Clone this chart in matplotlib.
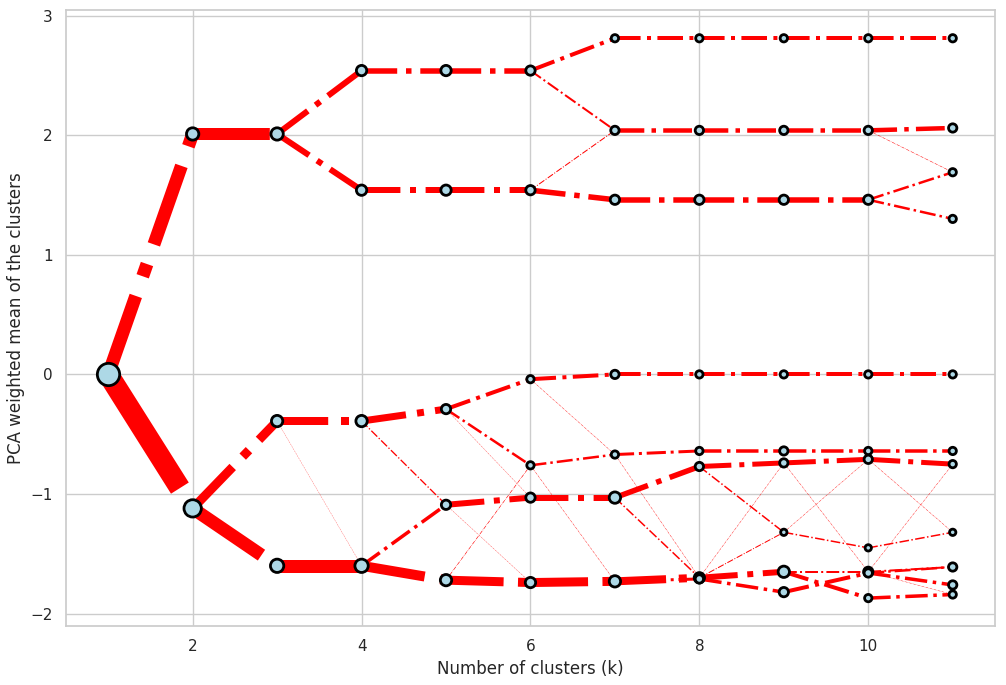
import matplotlib
matplotlib.use('Agg')
import matplotlib.pyplot as plt
import seaborn as sns


# cluster centres (PCA weighted mean) for each number of clusters k
ks = list(range(1, 12))
means = [
    [0.0],
    [2.01, -1.12],
    [2.01, -0.39, -1.60],
    [2.54, 1.54, -0.39, -1.60],
    [2.54, 1.54, -0.29, -1.09, -1.72],
    [2.54, 1.54, -0.04, -0.76, -1.03, -1.74],
    [2.81, 2.04, 1.46, 0.0, -0.67, -1.03, -1.73],
    [2.81, 2.04, 1.46, 0.0, -0.64, -0.77, -1.70, -1.71],
    [2.81, 2.04, 1.46, 0.0, -0.64, -0.74, -1.32, -1.65, -1.82],
    [2.81, 2.04, 1.46, 0.0, -0.64, -0.71, -1.45, -1.65, -1.66, -1.87],
    [2.81, 2.06, 1.69, 1.30, 0.0, -0.64, -0.75, -1.32, -1.61, -1.76, -1.84],
]

# relative cluster size (marker diameter)
sizes = [
    [24],
    [14, 19],
    [14, 13, 15],
    [12, 12, 13, 15],
    [12, 12, 11, 11, 13],
    [11, 11, 9, 9, 11, 12],
    [9, 10, 11, 10, 9, 13, 13],
    [9, 10, 11, 9, 9, 10, 12, 10],
    [9, 10, 11, 9, 10, 10, 8, 13, 11],
    [9, 10, 11, 9, 9, 10, 8, 11, 10, 9],
    [9, 10, 9, 9, 9, 9, 9, 8, 10, 10, 9],
]

# transitions: (k, cluster at k, cluster at k+1, shared observations)
flows = [
    (1, 0, 0, 13), (1, 0, 1, 21),
    (2, 0, 0, 12), (2, 1, 1, 9), (2, 1, 2, 13),
    (3, 0, 0, 6), (3, 0, 1, 6), (3, 1, 2, 8), (3, 1, 3, 0.25), (3, 2, 3, 13),
    (4, 0, 0, 5.5), (4, 1, 1, 6), (4, 2, 2, 7), (4, 2, 3, 1.3), (4, 3, 3, 3.5),
    (4, 3, 4, 10),
    (5, 0, 0, 5.5), (5, 1, 1, 6), (5, 2, 2, 4), (5, 2, 3, 2.5), (5, 2, 4, 0.3),
    (5, 3, 4, 6), (5, 3, 5, 0.3), (5, 4, 3, 0.6), (5, 4, 5, 9),
    (6, 0, 0, 4), (6, 0, 1, 2), (6, 1, 1, 1), (6, 1, 2, 5.5), (6, 2, 3, 4),
    (6, 2, 4, 0.4), (6, 3, 4, 2.5), (6, 3, 6, 0.4), (6, 4, 5, 6), (6, 5, 6, 9),
    (7, 0, 0, 4), (7, 1, 1, 4.5), (7, 2, 2, 5.5), (7, 3, 3, 4), (7, 4, 4, 3),
    (7, 4, 6, 0.4), (7, 5, 5, 5.5), (7, 5, 6, 1.5), (7, 6, 6, 8), (7, 6, 7, 3),
    (8, 0, 0, 4), (8, 1, 1, 4.5), (8, 2, 2, 5.5), (8, 3, 3, 4), (8, 4, 4, 3.5),
    (8, 5, 5, 5), (8, 5, 6, 1.5), (8, 6, 5, 0.4), (8, 6, 6, 1), (8, 6, 7, 6),
    (8, 7, 8, 3.5),
    (9, 0, 0, 4), (9, 1, 1, 4.5), (9, 2, 2, 5.5), (9, 3, 3, 4), (9, 4, 4, 3.5),
    (9, 5, 5, 5), (9, 5, 7, 0.4), (9, 6, 5, 0.4), (9, 6, 6, 1.5), (9, 7, 7, 2),
    (9, 7, 9, 4), (9, 8, 8, 4),
    (10, 0, 0, 4), (10, 1, 1, 4.5), (10, 1, 2, 0.5), (10, 2, 2, 2.5),
    (10, 2, 3, 2.5), (10, 3, 4, 4), (10, 4, 5, 3.5), (10, 5, 6, 5),
    (10, 5, 7, 0.4), (10, 6, 7, 1.5), (10, 7, 6, 0.4), (10, 7, 8, 2),
    (10, 8, 8, 2.5), (10, 8, 9, 3.5), (10, 7, 10, 0.4), (10, 9, 10, 3.5),
]


sns.set_theme(style='whitegrid')

fig = plt.figure(figsize=(10.06, 6.85), dpi=100)
ax = fig.add_subplot(111)
fig.subplots_adjust(left=0.0656, right=0.989, top=0.985, bottom=0.086)

for k, a, b, w in flows:
    ax.plot([k, k + 1], [means[k - 1][a], means[k][b]], '-.', color='red',
            linewidth=w * 0.72, zorder=1)

for k, m, s in zip(ks, means, sizes):
    area = [max(d * 0.72 - 1.2, 1) ** 2 for d in s]
    ax.scatter([k] * len(m), m, s=area, facecolor='lightblue',
               edgecolor='black', linewidths=2, zorder=3)

ax.set_xlabel('Number of clusters (k)')
ax.set_ylabel('PCA weighted mean of the clusters')

plt.savefig('out.png', dpi=100)
